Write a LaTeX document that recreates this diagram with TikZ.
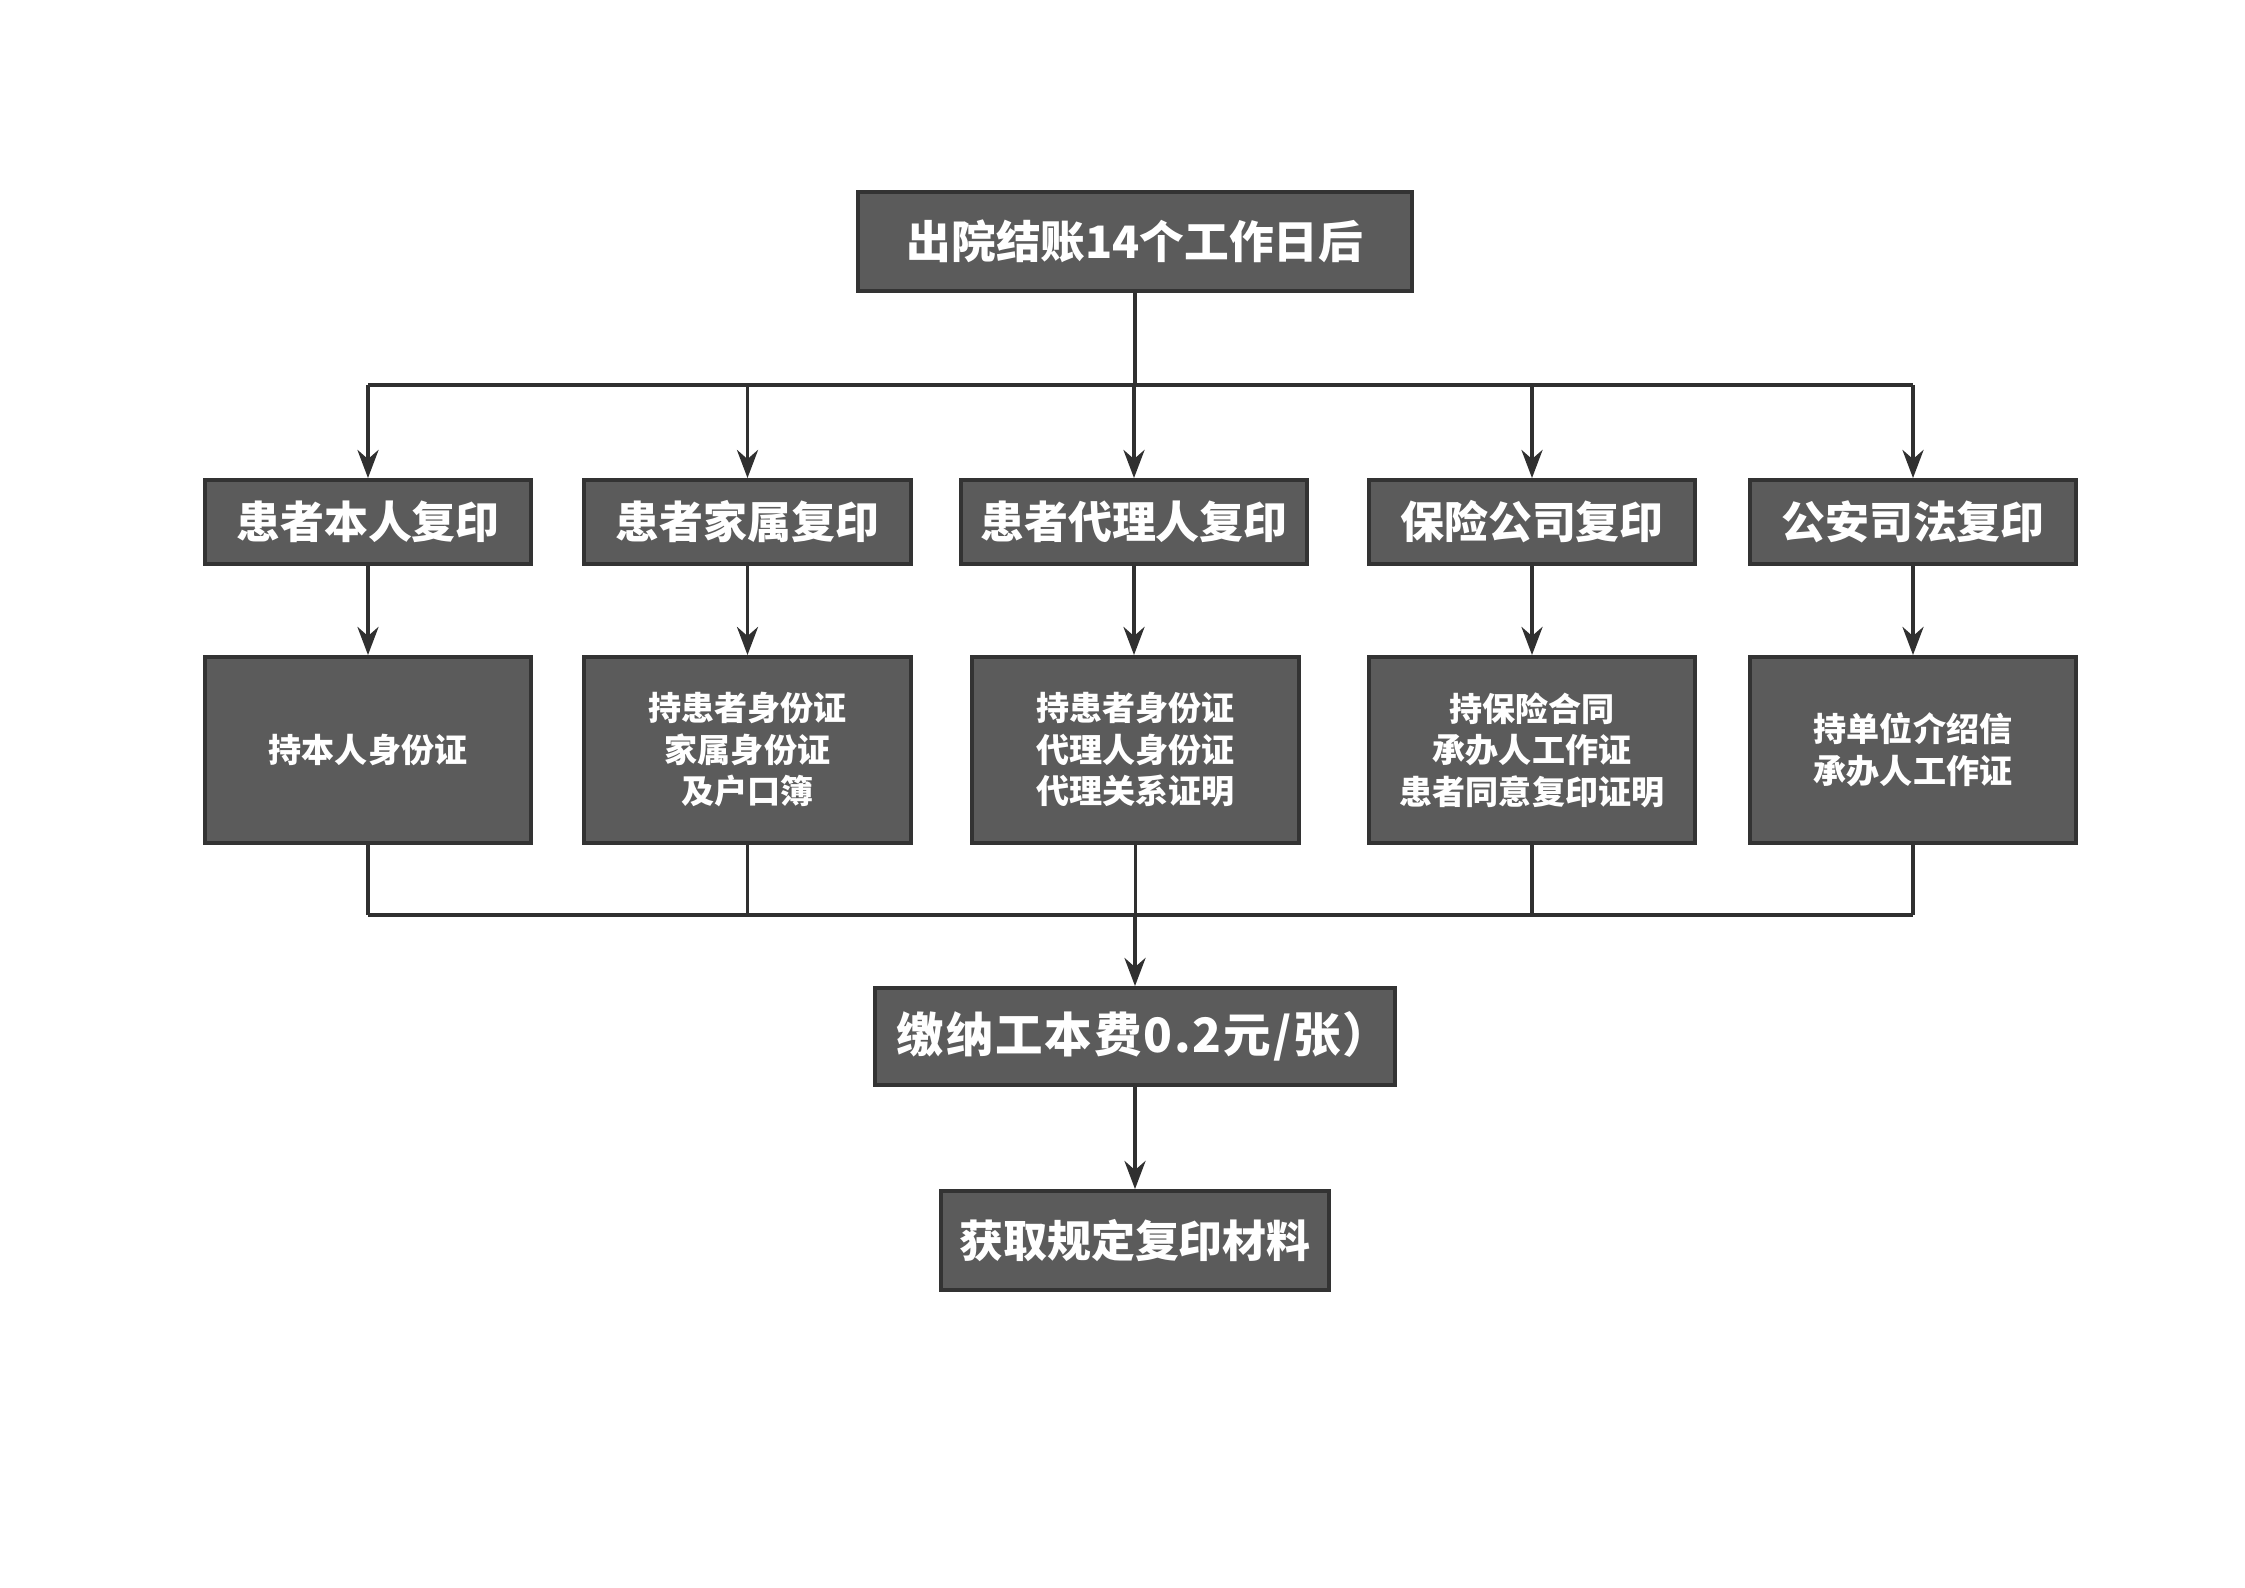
\documentclass[tikz,border=0pt]{standalone}
\usepackage{fontspec}
\setmainfont{Noto Sans CJK SC}
\usetikzlibrary{arrows.meta}
\definecolor{boxfill}{HTML}{5B5B5B}
\definecolor{boxline}{HTML}{333333}
\definecolor{linec}{HTML}{303030}
\begin{document}
\begin{tikzpicture}[x=0.01cm,y=-0.01cm,
  box/.style={draw=boxline,fill=boxfill,line width=1.1pt,text=white,font=\bfseries,align=center,inner sep=0pt},
  conn/.style={draw=linec,line width=1pt},
  arr/.style={conn,-{Stealth[length=8pt,width=6pt]}}]
\fill[white] (0,0) rectangle (2245,1587);
\useasboundingbox (0,0) rectangle (2245,1587);

\node[box,minimum width=5.54cm,minimum height=0.99cm,font=\bfseries\fontsize{12.7}{15}\selectfont] (top) at (1135,241.5) {出院结账14个工作日后};

\tikzset{r1/.style={box,minimum height=0.84cm,font=\bfseries\fontsize{12.5}{15}\selectfont},
         r2/.style={box,minimum height=1.86cm,font=\bfseries\fontsize{9.4}{11.8}\selectfont}}
\node[r1,minimum width=3.26cm] (a1) at (368,522) {患者本人复印};
\node[r1,minimum width=3.27cm] (b1) at (747.5,522) {患者家属复印};
\node[r1,minimum width=3.46cm] (c1) at (1134,522) {患者代理人复印};
\node[r1,minimum width=3.26cm] (d1) at (1532,522) {保险公司复印};
\node[r1,minimum width=3.26cm] (e1) at (1913,522) {公安司法复印};

\node[r2,minimum width=3.26cm] (a2) at (368,750) {持本人身份证};
\node[r2,minimum width=3.27cm] (b2) at (747.5,750) {持患者身份证\\家属身份证\\及户口簿};
\node[r2,minimum width=3.27cm] (c2) at (1135.5,750) {持患者身份证\\代理人身份证\\代理关系证明};
\node[r2,minimum width=3.26cm] (d2) at (1532,750) {持保险合同\\承办人工作证\\患者同意复印证明};
\node[r2,minimum width=3.26cm] (e2) at (1913,750) {持单位介绍信\\承办人工作证};

\node[box,minimum width=5.19cm,minimum height=0.97cm,font=\bfseries\fontsize{13.5}{16}\selectfont\addfontfeature{LetterSpace=4}] (fee) at (1135,1036.5) {\hspace*{0.17cm}缴纳工本费0.2元/张）};
\node[box,minimum width=3.88cm,minimum height=0.99cm,font=\bfseries\fontsize{12.5}{15}\selectfont] (fin) at (1135,1240.5) {获取规定复印材料};

\coordinate (bus1) at (1135,385);
\coordinate (bus2) at (1135,915);

\draw[conn] (top.south) -- (bus1);
\draw[conn] (bus1 -| a1.north) -- (bus1 -| e1.north);
\foreach \n in {a1,b1,c1,d1,e1}{\draw[arr] (bus1 -| \n.north) -- (\n.north);}
\draw[arr] (a1.south) -- (a2.north);
\draw[arr] (b1.south) -- (b2.north);
\draw[arr] (c1.south) -- (c1.south |- c2.north);
\draw[arr] (d1.south) -- (d2.north);
\draw[arr] (e1.south) -- (e2.north);
\foreach \n in {a2,b2,c2,d2,e2}{\draw[conn] (\n.south) -- (bus2 -| \n.south);}
\draw[conn] (bus2 -| a2.south) -- (bus2 -| e2.south);
\draw[arr] (bus2) -- (fee.north);
\draw[arr] (fee.south) -- (fin.north);
\end{tikzpicture}
\end{document}
